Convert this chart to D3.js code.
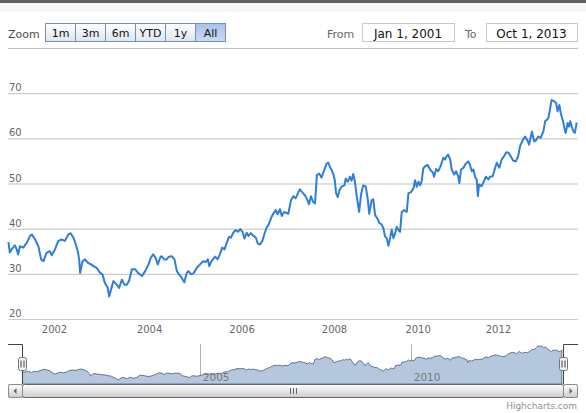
<!DOCTYPE html>
<html>
<head>
<meta charset="utf-8">
<script src="https://cdn.jsdelivr.net/npm/d3@7"></script>
<style>
  html, body { margin: 0; padding: 0; background: #fff; }
  svg { display: block; font-family: "DejaVu Sans", Verdana, sans-serif; }
</style>
</head>
<body>
<div id="chart"></div>
<script>
// closing values, time as decimal years
const t = [
  2001.01,2001.04,2001.09,2001.15,2001.19,2001.22,2001.26,2001.33,2001.41,2001.48,2001.52,2001.59,2001.66,2001.72,2001.77,2001.84,2001.91,2001.95,
  2002.02,2002.09,2002.16,2002.23,2002.30,2002.35,2002.41,2002.46,2002.50,2002.53,2002.55,2002.60,2002.65,2002.72,2002.78,2002.83,2002.90,2002.97,
  2003.02,2003.07,2003.13,2003.16,2003.20,2003.25,2003.32,2003.37,2003.43,2003.48,2003.53,2003.58,2003.64,2003.71,2003.77,2003.85,2003.92,2003.99,
  2004.04,2004.09,2004.14,2004.19,2004.24,2004.27,2004.33,2004.38,2004.43,2004.49,2004.55,2004.60,2004.65,2004.71,2004.76,2004.81,2004.85,2004.91,2004.96,
  2005.03,2005.10,2005.17,2005.22,2005.27,2005.30,2005.35,2005.43,2005.48,2005.53,2005.58,2005.63,2005.68,2005.73,2005.77,2005.82,2005.87,2005.92,2005.97,
  2006.02,2006.06,2006.11,2006.15,2006.20,2006.25,2006.31,2006.35,2006.40,2006.45,2006.49,2006.54,2006.59,2006.64,2006.69,2006.74,2006.78,2006.83,2006.87,2006.92,
  2007.01,2007.07,2007.12,2007.17,2007.23,2007.26,2007.31,2007.37,2007.41,2007.46,2007.50,2007.55,2007.59,2007.63,2007.68,2007.73,2007.79,2007.84,2007.88,2007.91,2007.95,2007.99,
  2008.02,2008.05,2008.09,2008.13,2008.18,2008.25,2008.28,2008.33,2008.38,2008.42,2008.46,2008.50,2008.54,2008.60,2008.65,2008.70,2008.76,2008.81,2008.84,2008.90,2008.94,2008.98,
  2009.05,2009.08,2009.14,2009.18,2009.22,2009.26,2009.30,2009.34,2009.38,2009.42,2009.46,2009.50,2009.54,2009.58,2009.62,2009.68,2009.74,2009.78,2009.84,2009.90,2009.94,2009.98,
  2010.02,2010.06,2010.10,2010.14,2010.18,2010.25,2010.31,2010.38,2010.41,2010.46,2010.51,2010.57,2010.64,2010.68,2010.72,2010.76,2010.81,2010.85,2010.91,2010.96,
  2011.01,2011.04,2011.08,2011.14,2011.20,2011.26,2011.30,2011.35,2011.39,2011.43,2011.47,2011.50,2011.53,2011.59,2011.63,2011.70,2011.76,2011.80,2011.87,2011.93,2011.97,
  2012.03,2012.08,2012.13,2012.18,2012.23,2012.28,2012.33,2012.39,2012.44,2012.48,2012.54,2012.59,2012.64,2012.68,2012.74,2012.79,2012.83,2012.88,2012.93,2012.99,
  2013.03,2013.07,2013.10,2013.14,2013.17,2013.23,2013.27,2013.30,2013.34,2013.37,2013.42,2013.45,2013.48,2013.52,2013.55,2013.58,2013.61,2013.65,2013.68,2013.72
];
const close = [
  37.0,34.7,35.6,36.3,35.4,34.3,36.1,35.8,36.9,38.4,38.7,37.6,36.1,33.2,32.8,34.7,35.0,34.1,
  35.4,37.3,37.6,37.3,38.7,39.0,38.0,36.5,35.0,33.2,30.2,32.8,33.2,32.4,32.1,31.7,31.3,30.2,
  29.9,28.0,26.9,25.0,26.5,28.4,27.6,26.9,28.7,27.6,27.6,28.4,31.0,31.0,30.2,29.5,30.6,32.1,
  33.6,34.3,33.6,32.1,33.6,33.9,33.2,33.2,33.8,33.9,33.2,30.6,29.9,29.1,28.1,30.1,30.6,29.9,30.1,
  31.3,32.1,32.8,32.6,33.2,31.7,32.8,33.8,33.2,34.3,35.8,35.4,36.9,38.2,38.0,39.1,39.7,39.3,39.9,
  39.3,37.8,39.1,38.4,39.0,38.5,38.0,36.7,36.5,37.3,38.7,40.2,41.0,42.4,43.4,44.1,43.2,44.3,42.8,43.7,
  43.3,46.3,47.2,46.7,48.1,48.7,48.1,47.4,46.7,45.4,47.2,45.9,45.6,51.9,52.2,51.3,53.0,54.4,54.6,53.7,53.0,51.9,
  50.7,47.8,47.0,48.5,49.3,49.6,51.1,50.4,51.5,50.6,52.1,50.4,47.4,43.7,47.8,49.6,49.3,46.3,43.3,46.3,46.5,43.1,
  42.0,41.3,40.9,40.1,38.3,37.9,36.2,37.9,39.8,37.9,38.9,40.4,39.7,39.3,43.7,44.1,43.7,47.8,48.1,48.9,50.7,49.3,
  50.4,49.6,50.4,53.3,53.8,54.1,53.1,52.4,51.5,53.2,52.7,53.8,55.7,55.3,56.0,56.4,55.3,53.1,52.0,52.7,
  51.6,50.1,53.1,53.5,54.4,54.9,54.2,52.7,53.1,51.5,50.9,47.2,49.8,49.4,50.1,51.5,50.9,51.5,51.6,53.5,54.6,
  53.5,55.3,56.0,56.9,56.8,56.0,55.1,54.9,56.0,58.2,59.6,60.4,59.6,58.6,61.5,59.3,59.6,60.4,60.1,61.5,
  63.8,64.1,64.5,66.7,68.5,68.2,67.8,66.0,67.4,65.6,63.8,62.3,61.2,63.4,62.6,63.8,62.6,61.5,61.2,63.5
];

const yTicks = [20, 30, 40, 50, 60, 70, 80];
const xTickYears = [2002, 2004, 2006, 2008, 2010, 2012];
const navTickYears = [2005, 2010];
const rangeButtons = ["1m", "3m", "6m", "YTD", "1y", "All"];
const selectedButton = "All";
const fromText = "Jan 1, 2001";
const toText = "Oct 1, 2013";

// decimal year -> Date
function yearToDate(v) {
    const y = Math.floor(v);
    const a = new Date(y, 0, 1), b = new Date(y + 1, 0, 1);
    return new Date(+a + (v - y) * (b - a));
}
const data = t.map((v, i) => ({date: yearToDate(v), value: close[i]}));

const W = 586, H = 413;
const plot = {left: 8, right: 578, top: 48, bottom: 319};
const nav = {left: 22, right: 563, top: 344, bottom: 384};

// ordinal-like axis: years hold unequal widths (gaps in the weekly series)
const axisStops = [new Date(2001,0,1), new Date(2002,0,1), new Date(2004,0,1), new Date(2006,0,1),
                   new Date(2008,0,1), new Date(2010,0,1), new Date(2012,0,1), new Date(2013,9,1)];
const axisFracs = [0, 0.0807, 0.2474, 0.4098, 0.5719, 0.7186, 0.8596, 1];

const x = d3.scaleTime()
    .domain(axisStops)
    .range(axisFracs.map(f => plot.left + f * (plot.right - plot.left)));
const y = d3.scaleLinear().domain([20, 80]).range([plot.bottom, plot.top]);

const navX = x.copy().range(axisFracs.map(f => nav.left + f * (nav.right - nav.left)));
const navY = d3.scaleLinear().domain([20, 71]).range([nav.bottom, nav.top]);

const svg = d3.select("#chart").append("svg")
    .attr("width", W)
    .attr("height", H);

const defs = svg.append("defs");
function vGrad(id, stops) {
    const g = defs.append("linearGradient").attr("id", id)
        .attr("x1", 0).attr("y1", 0).attr("x2", 0).attr("y2", 1);
    stops.forEach(s => g.append("stop").attr("offset", s[0]).attr("stop-color", s[1]));
}
vGrad("btnNormal", [[0, "#ffffff"], [1, "#dde6f1"]]);
vGrad("btnSelect", [[0, "#a6c3e8"], [1, "#c9dcf6"]]);
vGrad("scrollBar", [[0, "#ffffff"], [1, "#cccccc"]]);
vGrad("scrollTrack", [[0, "#eeeeee"], [1, "#ffffff"]]);

// top strip
svg.append("rect").attr("x", 0).attr("y", 0).attr("width", W).attr("height", 3).attr("fill", "#5f5f5f");
svg.append("rect").attr("x", 0).attr("y", 3).attr("width", W).attr("height", 9).attr("fill", "#f7f7f7");

// range selector
svg.append("text")
    .attr("x", 8).attr("y", 37.5)
    .attr("font-size", 11).attr("fill", "#4d4d4d")
    .text("Zoom");

const btnX = d3.scaleBand().domain(rangeButtons).range([45, 225]);
const btn = svg.append("g").selectAll("g")
    .data(rangeButtons)
    .enter().append("g")
    .attr("transform", d => `translate(${btnX(d) + 0.5}, 23.5)`);
btn.append("rect")
    .attr("width", btnX.bandwidth())
    .attr("height", 18)
    .attr("fill", d => d === selectedButton ? "url(#btnSelect)" : "url(#btnNormal)")
    .attr("stroke", "#7b90a8");
btn.append("text")
    .attr("x", btnX.bandwidth() / 2)
    .attr("y", 13.5)
    .attr("text-anchor", "middle")
    .attr("font-size", 11)
    .attr("fill", "#111")
    .text(d => d);

// date inputs
function dateBox(label, labelX, boxX, boxW, value) {
    svg.append("text")
        .attr("x", labelX).attr("y", 37.5)
        .attr("font-size", 11).attr("fill", "#666")
        .text(label);
    svg.append("rect")
        .attr("x", boxX + 0.5).attr("y", 23.5)
        .attr("width", boxW).attr("height", 18)
        .attr("fill", "#fff").attr("stroke", "#c8c8c8");
    svg.append("text")
        .attr("x", boxX + boxW / 2).attr("y", 37.5)
        .attr("text-anchor", "middle")
        .attr("font-size", 12).attr("fill", "#111")
        .text(value);
}
dateBox("From", 327, 362, 92, fromText);
dateBox("To", 465, 486, 91, toText);

// y grid + labels
const yAxis = svg.append("g")
    .attr("transform", `translate(${plot.left}, 0)`)
    .call(d3.axisRight(y).tickValues(yTicks).tickSize(plot.right - plot.left).tickFormat(d3.format("d")));
yAxis.select(".domain").remove();
yAxis.selectAll(".tick line")
    .attr("stroke", d => d === 20 ? "#c0d0e0" : "#c0c0c0");
yAxis.selectAll(".tick text")
    .attr("x", 1).attr("y", -2.5).attr("dy", 0)
    .attr("text-anchor", "start")
    .attr("font-size", 10).attr("font-family", "DejaVu Sans, Verdana, sans-serif")
    .attr("fill", "#666")
    .text(d => d === 80 ? "" : d);

// x labels
const xAxis = svg.append("g")
    .attr("transform", `translate(0, ${plot.bottom})`)
    .call(d3.axisBottom(x).tickValues(xTickYears.map(v => new Date(v, 0, 1))).tickSize(0).tickFormat(d3.timeFormat("%Y")));
xAxis.select(".domain").remove();
xAxis.selectAll(".tick text")
    .attr("y", 14).attr("dy", 0)
    .attr("font-size", 10).attr("font-family", "DejaVu Sans, Verdana, sans-serif")
    .attr("fill", "#666");

// main series
svg.append("path")
    .datum(data)
    .attr("fill", "none")
    .attr("stroke", "#2f7ed8")
    .attr("stroke-width", 2)
    .attr("stroke-linejoin", "round")
    .attr("d", d3.line().x(d => x(d.date)).y(d => y(d.value)));

// navigator
const navG = svg.append("g");
navG.selectAll(".navgrid")
    .data(navTickYears)
    .enter().append("line")
    .attr("x1", d => Math.round(navX(new Date(d, 0, 1))) + 0.5)
    .attr("x2", d => Math.round(navX(new Date(d, 0, 1))) + 0.5)
    .attr("y1", nav.top).attr("y2", nav.bottom)
    .attr("stroke", "#b0b0b0");

navG.append("path")
    .datum(data)
    .attr("fill", "#b5c7dc")
    .attr("stroke", "#5d7492")
    .attr("stroke-width", 1)
    .attr("d", d3.area().x(d => navX(d.date)).y0(nav.bottom).y1(d => navY(d.value)));

navG.selectAll(".navlabel")
    .data(navTickYears)
    .enter().append("text")
    .attr("x", d => navX(new Date(d, 0, 1)) + 3)
    .attr("y", 380.5)
    .attr("font-size", 10.5)
    .attr("fill", "#777")
    .text(d => d);

// navigator outline
navG.append("path")
    .attr("fill", "none")
    .attr("stroke", "#444")
    .attr("d", `M${plot.left},${nav.top + 0.5}H${nav.left + 0.5}V${nav.bottom}M${nav.right + 0.5},${nav.bottom}V${nav.top + 0.5}H${plot.right}`);

// scrollbar
const sbY = nav.bottom + 0.5, sbH = 13;
svg.append("rect")
    .attr("x", plot.left + 0.5).attr("y", sbY)
    .attr("width", plot.right - plot.left - 1).attr("height", sbH)
    .attr("fill", "url(#scrollTrack)").attr("stroke", "#ccc");
svg.append("rect")
    .attr("x", nav.left + 0.5).attr("y", sbY)
    .attr("width", nav.right - nav.left).attr("height", sbH)
    .attr("rx", 2)
    .attr("fill", "url(#scrollBar)").attr("stroke", "#666");
const mid = Math.round((nav.left + nav.right) / 2);
[-3, 0, 3].forEach(o => {
    svg.append("line")
        .attr("x1", mid + o + 0.5).attr("x2", mid + o + 0.5)
        .attr("y1", sbY + 3.5).attr("y2", sbY + 9.5)
        .attr("stroke", "#666");
});
[[plot.left + 0.5, -1], [nav.right + 0.5, 1]].forEach(([bx, dir]) => {
    svg.append("rect")
        .attr("x", bx).attr("y", sbY)
        .attr("width", 14).attr("height", sbH)
        .attr("rx", 2)
        .attr("fill", "url(#scrollBar)").attr("stroke", "#888");
    const cx = bx + 7, cy = sbY + sbH / 2;
    svg.append("path")
        .attr("fill", "#666")
        .attr("d", dir < 0
            ? `M${cx - 2},${cy}L${cx + 1},${cy - 3}L${cx + 1},${cy + 3}Z`
            : `M${cx + 2},${cy}L${cx - 1},${cy - 3}L${cx - 1},${cy + 3}Z`);
});

// navigator handles
[nav.left, nav.right].forEach(hx => {
    const g = svg.append("g").attr("transform", `translate(${hx + 0.5}, 357.5)`);
    g.append("rect")
        .attr("x", -4).attr("y", 0)
        .attr("width", 8).attr("height", 13)
        .attr("rx", 2)
        .attr("fill", "#f2f0f0").attr("stroke", "#777");
    [-1.5, 1.5].forEach(o => {
        g.append("line")
            .attr("x1", o).attr("x2", o)
            .attr("y1", 3).attr("y2", 10)
            .attr("stroke", "#444");
    });
});

// credits
svg.append("text")
    .attr("x", 577).attr("y", 408.5)
    .attr("text-anchor", "end")
    .attr("font-size", 9)
    .attr("fill", "#909090")
    .text("Highcharts.com");
</script>
</body>
</html>
